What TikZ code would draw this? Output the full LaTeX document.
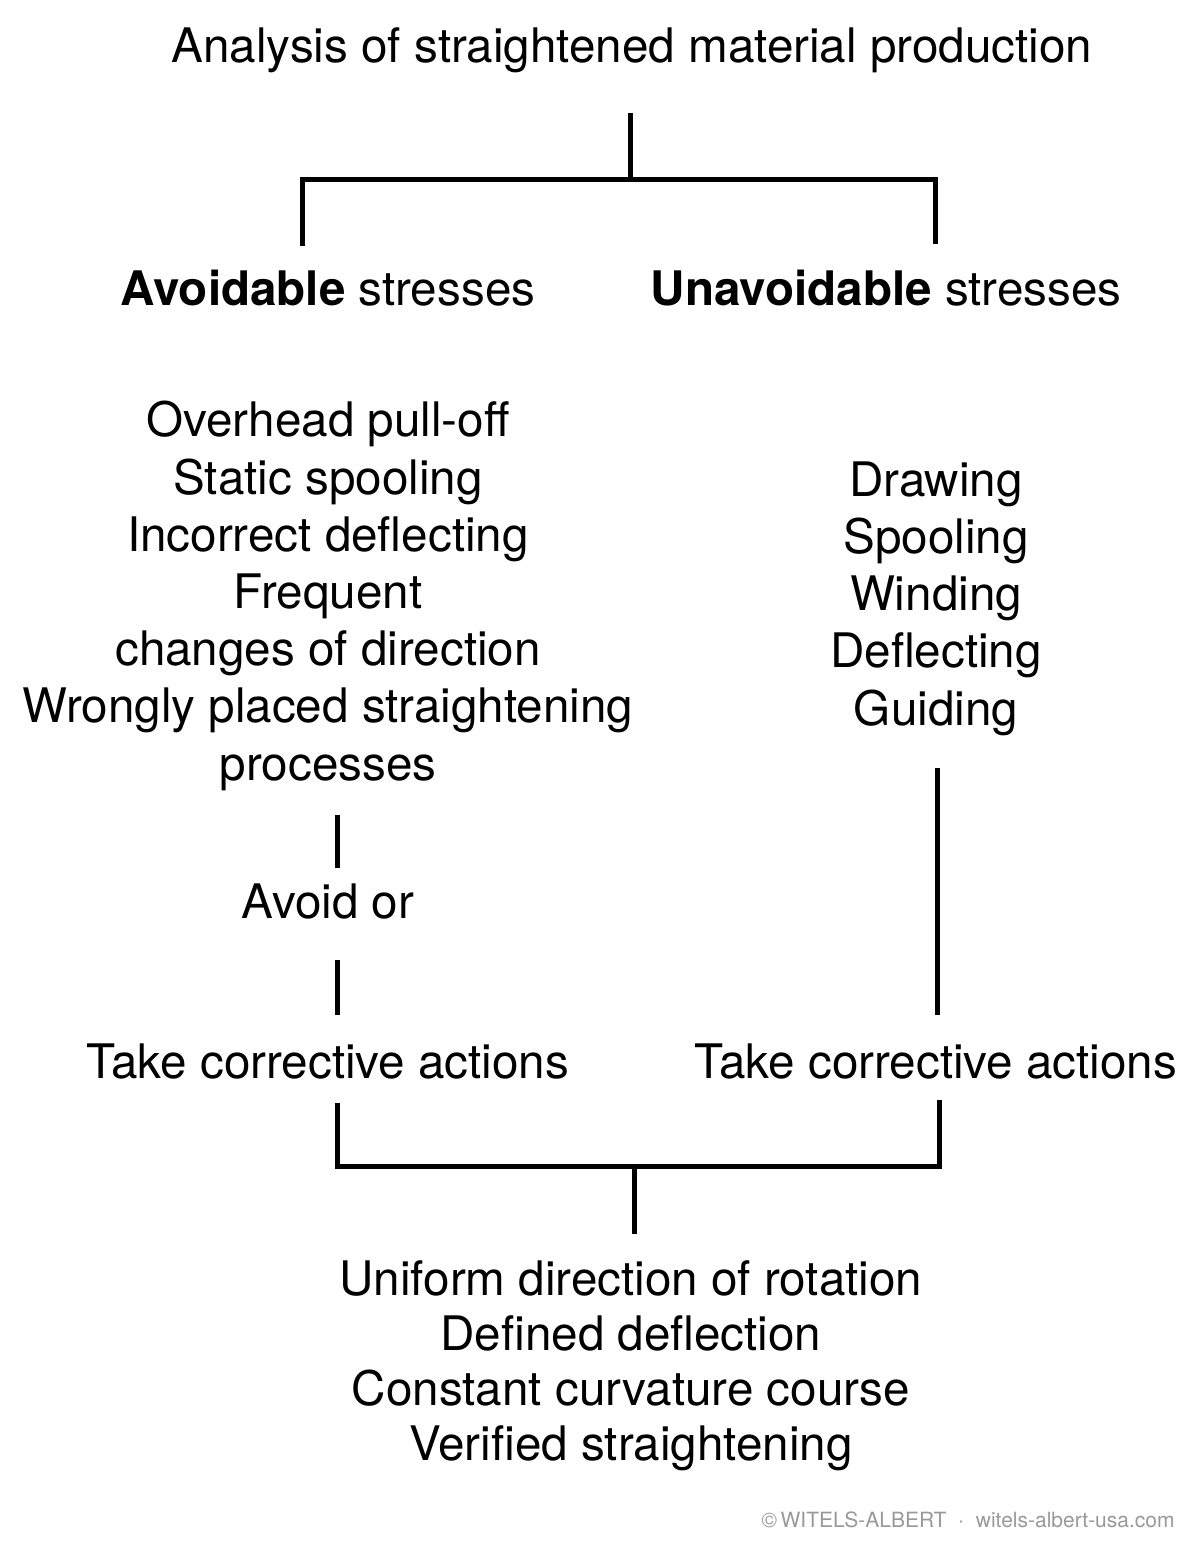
\documentclass[tikz,border=0pt]{standalone}
\usepackage{fontspec}
\setmainfont{TeX Gyre Heros}
\begin{document}
\begin{tikzpicture}[x=0.5pt,y=-0.5pt,line cap=butt,line join=miter,
    bar/.style={line width=2.5pt},
    txt/.style={inner sep=0pt,anchor=base,align=center,
      font=\fontsize{23.8}{28.6}\selectfont},
    note/.style={inner sep=0pt,anchor=base east,text=black!40,
      font=\fontsize{10.5}{12}\selectfont}]
  \useasboundingbox (0,0) rectangle (1200,1548);
  \def\lx{328} \def\rx{936}
  % headings
  \node[txt] (title) at (632,62) {Analysis of straightened material production};
  \node[txt] (avoid) at (\lx,305) {\textbf{Avoidable} stresses};
  \node[txt] (unavoid) at (886,305) {\textbf{Unavoidable} stresses};
  % stress lists (base = last line)
  \node[txt] (avlist) at (\lx,780) {Overhead pull-off\\Static spooling\\Incorrect deflecting\\Frequent\\changes of direction\\Wrongly placed straightening\\processes};
  \node[txt] (unlist) at (\rx,725) {Drawing\\Spooling\\Winding\\Deflecting\\Guiding};
  \node[txt] (avoidor) at (\lx,918) {Avoid or};
  \node[txt] (actl) at (\lx,1078) {Take corrective actions};
  \node[txt] (actr) at (\rx,1078) {Take corrective actions};
  \node[txt,font=\fontsize{23.8}{27.4}\selectfont] (result) at (631,1460) {Uniform direction of rotation\\Defined deflection\\Constant curvature course\\Verified straightening};
  \node[note] (copy) at (1175,1527) {\textcopyright\,WITELS-ALBERT\ \ $\cdot$\ \ witels-albert-usa.com};
  % brackets
  \draw (630,113) coordinate (t1) (630,179) coordinate (t2)
    (302,179) coordinate (t3) (302,246) coordinate (t4)
    (935,179) coordinate (t5) (935,244) coordinate (t6)
    (337,815) coordinate (a1) (337,868) coordinate (a2)
    (337,960) coordinate (a3) (337,1015) coordinate (a4)
    (937,768) coordinate (b1) (937,1015) coordinate (b2)
    (337,1103) coordinate (c1) (337,1166) coordinate (c2)
    (939,1100) coordinate (c3) (939,1166) coordinate (c4)
    (634,1166) coordinate (d1) (634,1234) coordinate (d2);
  \draw[bar] (t1)--(t2) (t4)--(t3)--(t5)--(t6);
  \draw[bar] (a1)--(a2) (a3)--(a4) (b1)--(b2);
  \draw[bar] (c1)--(c2)--(c4)--(c3) (d1)--(d2);
\end{tikzpicture}
\end{document}
